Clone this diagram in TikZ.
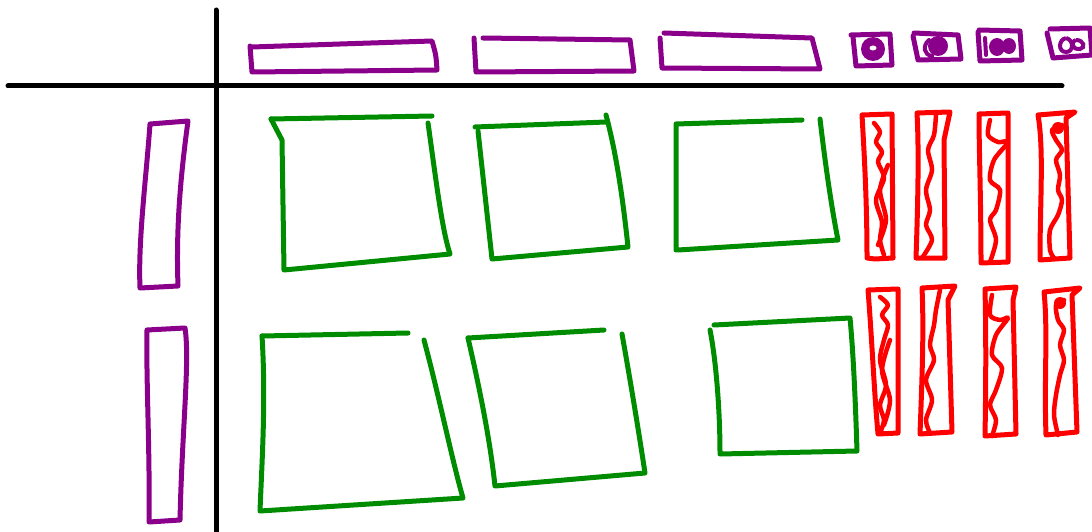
\documentclass[tikz,border=0pt]{standalone}
\definecolor{pp}{HTML}{8B008B}
\definecolor{gg}{HTML}{008C00}
\definecolor{rr}{HTML}{FF0000}
\tikzset{
  pen/.style={line width=5pt,line cap=round,line join=round},
  axis/.style={pen,black},
  pbox/.style={pen,pp},
  gbox/.style={pen,gg},
  rbox/.style={pen,rr,line width=5pt},
  wig/.style={pen,rr,line width=4.5pt}
}
\begin{document}
\begin{tikzpicture}[x=1pt,y=-1pt]
\useasboundingbox (0,0) rectangle (1092,532);
% axes
\draw[axis] (216,10) -- (216,532);
\draw[axis] (8,86) -- (1062,86);
% top purple bars
\draw[pbox] (252,47) -- (340,44) -- (432,41) .. controls (436,55) .. (437,70) -- (252,72) -- (250,46);
\draw[pbox] (483,38) -- (630,40) -- (634,71) -- (476,72) -- (474,38);
\draw[pbox] (664,33) -- (812,38) -- (820,69) -- (662,68) -- (660,38);
% icons
\draw[pbox] (851,35) -- (890,34) -- (892,65) -- (856,66) -- (853,37);
\fill[pp] (873,49) ellipse (12 and 12);
\fill[white] (873,48) ellipse (3.5 and 2.5);
\draw[pbox] (914,33) -- (958,35) -- (961,59) -- (918,60) -- (913,36);
\draw[pp,line width=4pt,line cap=round] (929,40) .. controls (922,46) and (924,55) .. (932,56);
\fill[pp] (938,46) ellipse (10 and 10);
\draw[pbox] (979,30) -- (1020,31) -- (1022,60) -- (980,61) -- (978,32);
\draw[pp,line width=4pt,line cap=round] (985,38) -- (986,55);
\fill[pp] (997,47) ellipse (8 and 9);
\fill[pp] (1009,46) ellipse (7 and 8);
\draw[pbox] (1050,29) -- (1090,28) -- (1092,55) -- (1053,58) -- (1047,33);
\draw[pp,line width=4pt] (1066,38) .. controls (1058,40) and (1058,52) .. (1066,52) .. controls (1074,52) and (1074,40) .. (1066,38);
\draw[pp,line width=4pt] (1076,40) .. controls (1070,42) and (1072,50) .. (1080,49) .. controls (1086,48) and (1084,40) .. (1076,40);
% left purple bars
\draw[pbox] (150,124) -- (188,121) .. controls (180,180) and (176,230) .. (178,286) -- (140,288) .. controls (138,240) and (146,180) .. (150,124);
\draw[pbox] (147,330) -- (185,328) .. controls (190,360) and (182,430) .. (180,520) -- (149,522) .. controls (150,450) and (146,380) .. (147,330);
% green squares row 1
\draw[gbox] (271,119) -- (432,116);
\draw[gbox] (428,123) .. controls (436,180) and (442,230) .. (450,254) -- (284,270) -- (282,140) -- (271,119);
\draw[gbox] (475,127) -- (606,122);
\draw[gbox] (606,115) .. controls (618,160) and (624,210) .. (628,247) -- (492,259) -- (478,131);
\draw[gbox] (676,250) -- (676,124) -- (802,120);
\draw[gbox] (820,119) .. controls (826,170) and (832,210) .. (838,240) -- (678,250);
% green squares row 2
\draw[gbox] (262,336) -- (408,333);
\draw[gbox] (424,340) .. controls (440,400) and (452,460) .. (463,498) -- (260,511) .. controls (262,460) and (266,400) .. (262,336);
\draw[gbox] (468,338) -- (604,330);
\draw[gbox] (622,334) .. controls (632,390) and (640,440) .. (645,473) -- (495,486) .. controls (490,440) and (480,390) .. (468,338);
\draw[gbox] (714,325) -- (850,318) .. controls (854,360) and (856,420) .. (857,451) -- (720,454) .. controls (720,410) and (716,360) .. (710,330);
% red bars row 1
\draw[rbox] (862,115) -- (892,114) -- (893,258) -- (875,259) -- (867,258) .. controls (867,200) and (864,150) .. (862,115);
\draw[wig] plot[smooth] coordinates {(874,123) (880,132) (876,142) (882,152) (878,162) (884,178) (876,200) (882,222) (880,240) (884,255)};
\draw[wig] plot[smooth] coordinates {(888,165) (880,190) (886,220) (878,245)};
\draw[rbox] (917,113) -- (950,112) -- (944,140) -- (945,258) -- (916,258) .. controls (918,200) and (919,150) .. (917,113);
\draw[wig] plot[smooth] coordinates {(936,115) (934,135) (928,150) (932,170) (926,190) (930,210) (926,225) (932,240) (922,258)};
\draw[rbox] (979,114) -- (1008,113) -- (1008,262) -- (981,263) .. controls (981,200) and (979,150) .. (979,114);
\draw[wig] plot[smooth] coordinates {(990,120) (988,135) (998,142) (1008,142) (994,160) (990,180) (1000,190) (996,210) (990,220) (996,240) (990,262)};
\draw[rbox] (1038,115) -- (1075,112) -- (1066,118) -- (1070,258) -- (1040,260) .. controls (1040,200) and (1044,150) .. (1038,115);
\draw[wig] plot[smooth] coordinates {(1062,125) (1052,130) (1056,140) (1062,150) (1056,160) (1060,175) (1058,190) (1062,200) (1058,215) (1050,230) (1050,250) (1054,258)};
\fill[rr] (1058,128) circle (6);
% red bars row 2
\draw[rbox] (868,290) -- (898,289) -- (898,433) -- (878,434) .. controls (874,390) and (872,340) .. (868,290);
\draw[wig] plot[smooth] coordinates {(880,297) (888,305) (882,315) (888,325) (884,340) (880,360) (886,385) (880,405) (884,420) (880,433)};
\draw[wig] plot[smooth] coordinates {(890,340) (882,370) (890,400) (884,425)};
\draw[rbox] (922,288) -- (955,286) -- (948,300) -- (952,432) -- (920,434) .. controls (922,380) and (924,330) .. (922,288);
\draw[wig] plot[smooth] coordinates {(940,290) (936,310) (934,325) (930,345) (934,360) (926,380) (932,400) (926,420) (930,433)};
\draw[rbox] (985,289) -- (1016,287) -- (1013,300) -- (1016,434) -- (985,436) .. controls (986,380) and (986,330) .. (985,289);
\draw[wig] plot[smooth] coordinates {(992,295) (990,315) (1000,320) (1008,318) (996,335) (992,355) (1002,368) (996,390) (990,405) (996,420) (992,436)};
\draw[rbox] (1044,292) -- (1080,288) -- (1072,295) -- (1077,432) -- (1046,435) .. controls (1044,380) and (1048,330) .. (1044,292);
\draw[wig] plot[smooth] coordinates {(1064,300) (1056,305) (1058,320) (1064,330) (1060,345) (1064,360) (1060,375) (1056,395) (1054,415) (1058,435)};
\fill[rr] (1060,303) circle (6);
\end{tikzpicture}
\end{document}
